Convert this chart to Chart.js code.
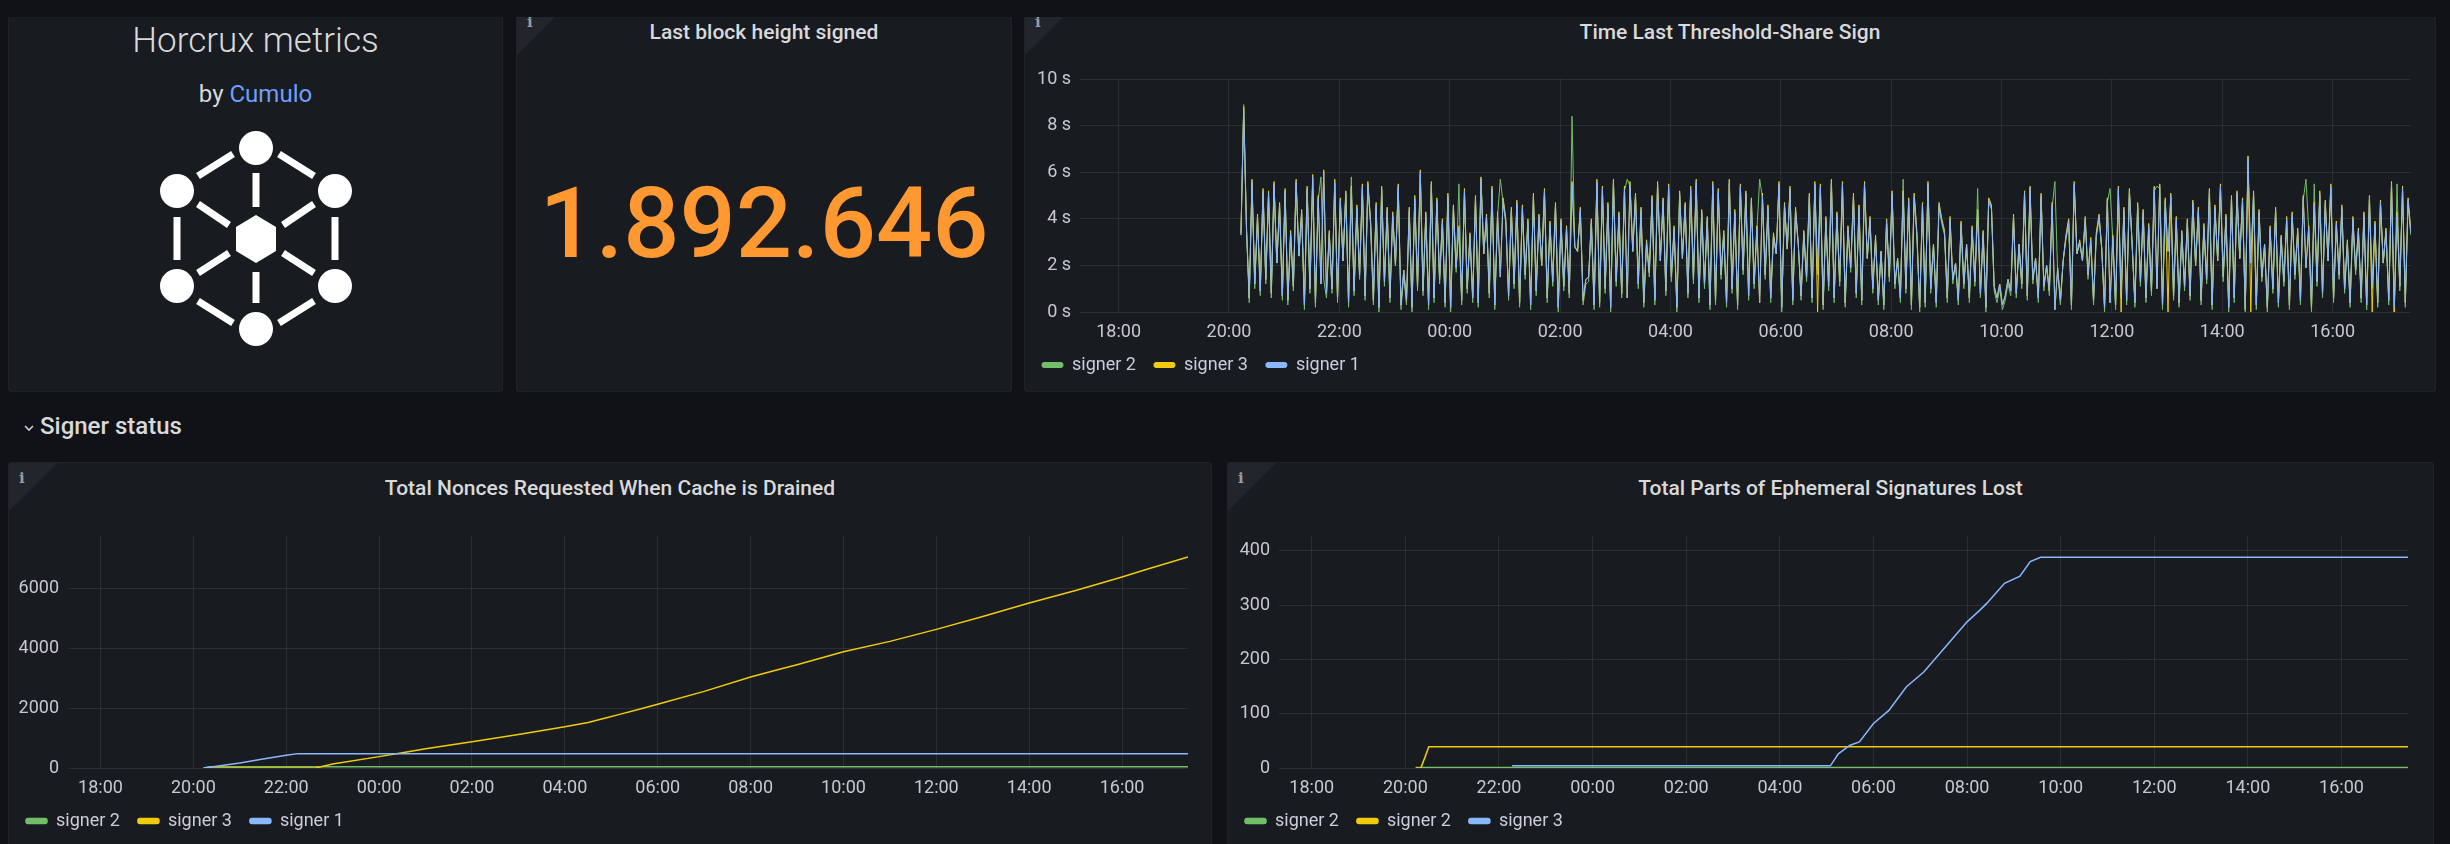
<!DOCTYPE html>
<html>
<head>
<meta charset="utf-8">
<title>Horcrux metrics</title>
<script src="https://cdn.jsdelivr.net/npm/chart.js@4.4.1/dist/chart.umd.min.js"></script>
<style>
  html, body { margin: 0; padding: 0; }
  body {
    width: 2450px; height: 844px; overflow: hidden; position: relative;
    background: #111217; font-family: Roboto, "Noto Sans", sans-serif; color: #ccccdc;
  }
  .panel {
    position: absolute; background: #181b1f; border: 1px solid #202226;
    border-radius: 3px; box-sizing: border-box; overflow: hidden;
  }
  .corner {
    position: absolute; left: 0; top: 0; width: 0; height: 0;
    border-top: 48px solid #22252b; border-right: 48px solid transparent;
  }
  .corner-i {
    position: absolute; left: 10px; top: 6px; font: bold 15px "DejaVu Serif", serif; color: #9a9ca3;
  }
  .title {
    position: absolute; left: 0; right: 0; top: 13px; text-align: center;
    font-size: 21px; font-weight: 500; color: #d8d9da;
  }
  .chartbox { position: absolute; }
  #topclip { position: absolute; left: 0; top: 0; width: 2450px; height: 17px; background: #111217; z-index: 5; }
</style>
</head>
<body>

<!-- top row (panels scrolled slightly under the header) -->
<div class="panel" style="left:8px; top:6px; width:495px; height:386px;">
  <div style="position:absolute; left:0; right:0; top:13px; text-align:center; font-size:35px; font-weight:300; color:#d8d9da;">Horcrux metrics</div>
  <div style="position:absolute; left:0; right:0; top:73px; text-align:center; font-size:24px; color:#d8d9da;">by <span style="color:#6e9fff;">Cumulo</span></div>
</div>
<svg style="position:absolute; left:150px; top:120px;" width="215" height="240" viewBox="150 120 215 240">
  <g fill="#ffffff">
    <circle cx="256" cy="148" r="17"/>
    <circle cx="177" cy="191" r="17"/>
    <circle cx="335" cy="191" r="17"/>
    <circle cx="177" cy="286" r="17"/>
    <circle cx="335" cy="286" r="17"/>
    <circle cx="256" cy="329" r="17"/>
    <polygon points="256,215 276,227 276,251 256,263 236,251 236,227"/>
  </g>
  <g stroke="#ffffff" stroke-width="7" fill="none">
    <line x1="233" y1="154" x2="198" y2="176"/>
    <line x1="279" y1="154" x2="314" y2="176"/>
    <line x1="177" y1="217" x2="177" y2="260"/>
    <line x1="335" y1="217" x2="335" y2="260"/>
    <line x1="198" y1="301" x2="233" y2="323"/>
    <line x1="314" y1="301" x2="279" y2="323"/>
    <line x1="256" y1="173" x2="256" y2="207"/>
    <line x1="256" y1="272" x2="256" y2="303"/>
    <line x1="198" y1="204" x2="229" y2="225"/>
    <line x1="314" y1="204" x2="283" y2="225"/>
    <line x1="198" y1="273" x2="229" y2="253"/>
    <line x1="314" y1="273" x2="283" y2="253"/>
  </g>
</svg>

<div class="panel" style="left:516px; top:6px; width:496px; height:386px;">
  <div class="corner"></div><div class="corner-i">i</div>
  <div class="title">Last block height signed</div>
  <div style="position:absolute; left:0; right:0; top:146px; text-align:center; font-size:99px; font-weight:500; color:#ff9830; line-height:140px;">1.892.646</div>
</div>

<div class="panel" style="left:1024px; top:6px; width:1412px; height:386px;">
  <div class="corner"></div><div class="corner-i">i</div>
  <div class="title">Time Last Threshold-Share Sign</div>
</div>
<div class="chartbox" style="left:1024px; top:50px; width:1412px; height:338px;"><canvas id="signChart"></canvas></div>

<div id="topclip"></div>

<!-- row header -->
<svg style="position:absolute; left:23px; top:423px;" width="12" height="10" viewBox="0 0 12 10">
  <polyline points="2,3 6,7 10,3" fill="none" stroke="#ccccdc" stroke-width="1.6"/>
</svg>
<div style="position:absolute; left:40px; top:412px; font-size:24px; font-weight:500; color:#d8d9da;">Signer status</div>

<!-- bottom row -->
<div class="panel" style="left:8px; top:462px; width:1204px; height:420px;">
  <div class="corner"></div><div class="corner-i">i</div>
  <div class="title">Total Nonces Requested When Cache is Drained</div>
</div>
<div class="chartbox" style="left:8px; top:500px; width:1204px; height:344px;"><canvas id="nonceChart"></canvas></div>

<div class="panel" style="left:1227px; top:462px; width:1207px; height:420px;">
  <div class="corner"></div><div class="corner-i">i</div>
  <div class="title">Total Parts of Ephemeral Signatures Lost</div>
</div>
<div class="chartbox" style="left:1227px; top:500px; width:1207px; height:344px;"><canvas id="lostChart"></canvas></div>

<script>
// time axis: hours since midnight of the first day (24+ = next day)
const axisMinHour = 17.3;
const axisMaxHour = 41.42;

// Time Last Threshold-Share Sign, seconds, one sample every 3 minutes from 20:13
const signStartHour = 20.2167;
const signStepHours = 0.05;
const signer2Sign = [
  3.3, 8.9, 3.5, 0.4, 5.5, 1.0, 4.0, 0.7, 5.1, 1.2, 5.0, 0.6, 5.4, 2.1, 4.5, 0.5, 5.1, 0.3, 3.3, 0.9,
  5.5, 2.4, 4.2, 0.1, 5.2, 0.8, 5.7, 0.2, 4.8, 5.8, 1.4, 0.6, 3.3, 0.8, 5.5, 0.4, 4.7, 2.2, 5.0, 0.2,
  5.8, 0.7, 4.4, 1.4, 5.3, 0.5, 5.4, 3.7, 0.3, 4.5, 0.0, 5.2, 1.1, 4.3, 0.4, 4.1, 2.0, 5.3, 0.1, 1.6,
  0.3, 4.3, 0.0, 4.8, 0.9, 5.9, 0.7, 4.1, 0.1, 5.4, 0.4, 4.7, 1.2, 3.8, 0.2, 4.9, 0.0, 4.4, 1.7, 5.5,
  0.3, 5.1, 0.8, 3.2, 0.4, 4.8, 0.2, 5.6, 2.5, 4.0, 0.6, 5.2, 0.1, 4.1, 5.7, 4.7, 3.8, 0.5, 4.3, 1.0,
  4.6, 0.2, 4.4, 1.4, 3.8, 0.1, 4.9, 0.7, 4.0, 2.0, 5.1, 0.4, 3.7, 1.1, 4.5, 0.0, 3.8, 0.9, 3.5, 0.6,
  8.4, 2.8, 2.6, 4.3, 0.3, 1.2, 1.3, 3.8, 0.1, 5.5, 0.2, 5.2, 0.8, 4.5, 0.0, 5.5, 1.1, 4.1, 0.6, 5.2,
  5.7, 5.4, 2.6, 4.9, 1.0, 4.3, 0.2, 2.9, 1.5, 4.8, 0.3, 5.4, 2.2, 4.7, 0.7, 5.3, 1.3, 3.5, 0.0, 5.0,
  2.3, 4.5, 0.6, 5.2, 1.2, 5.5, 0.4, 4.2, 1.0, 3.9, 0.1, 5.4, 0.3, 5.1, 1.4, 3.3, 0.2, 5.5, 0.8, 4.2,
  0.1, 5.3, 1.6, 5.0, 0.5, 4.7, 1.0, 3.5, 5.7, 4.9, 1.4, 4.4, 0.4, 3.2, 2.5, 5.4, 0.0, 4.5, 2.7, 5.2,
  0.3, 4.3, 2.9, 0.5, 3.3, 1.3, 4.9, 0.4, 5.4, 1.6, 5.3, 0.1, 3.9, 0.9, 5.5, 0.4, 4.1, 1.1, 5.4, 0.2,
  3.5, 1.7, 4.9, 0.6, 4.4, 0.3, 5.4, 2.3, 3.9, 0.8, 3.1, 0.3, 2.6, 0.1, 3.8, 1.3, 5.0, 1.0, 2.3, 0.4,
  5.7, 0.8, 4.7, 0.1, 4.9, 3.2, 0.0, 4.5, 0.2, 5.4, 0.8, 2.9, 0.2, 4.5, 3.8, 3.3, 0.4, 3.9, 1.2, 2.1,
  0.3, 3.7, 1.0, 2.9, 0.4, 3.5, 1.1, 5.3, 0.6, 3.3, 0.0, 4.7, 4.4, 0.9, 0.4, 1.0, 0.1, 0.5, 1.2, 0.7,
  4.0, 0.6, 2.9, 1.0, 5.0, 0.5, 5.2, 1.2, 2.3, 0.4, 4.9, 0.9, 2.0, 0.7, 4.5, 5.6, 1.7, 0.3, 2.2, 3.1,
  3.8, 0.1, 5.4, 2.5, 2.9, 2.2, 3.9, 1.4, 3.0, 0.3, 3.2, 4.0, 2.7, 0.0, 4.7, 5.3, 3.1, 0.1, 5.2, 0.6,
  4.3, 0.3, 5.1, 2.9, 0.2, 4.5, 1.1, 4.2, 0.4, 3.6, 0.7, 5.2, 5.4, 5.3, 0.1, 4.7, 2.6, 4.9, 0.5, 3.9,
  0.2, 3.3, 0.9, 3.8, 0.5, 4.6, 2.0, 4.3, 0.3, 3.6, 1.2, 5.1, 0.1, 4.4, 2.2, 5.3, 1.3, 4.0, 0.0, 4.8,
  0.4, 5.0, 2.3, 4.7, 0.0, 6.3, 2.1, 5.0, 0.1, 4.2, 1.3, 2.9, 0.0, 3.5, 0.8, 4.3, 0.2, 3.1, 1.1, 3.9,
  0.1, 4.1, 1.4, 3.4, 0.3, 4.8, 5.7, 3.5, 0.0, 5.5, 1.1, 5.0, 0.6, 4.6, 2.2, 5.3, 0.4, 3.7, 1.4, 4.4,
  0.8, 2.9, 0.2, 3.9, 1.6, 3.4, 0.4, 4.1, 0.1, 4.8, 1.0, 3.7, 0.2, 4.6, 2.1, 3.4, 0.3, 5.4, 0.0, 5.5,
  0.9, 5.2, 0.2, 4.7, 3.3
];
const signer3Sign = [
  3.4, 8.8, 3.7, 0.6, 5.7, 1.2, 4.2, 0.9, 5.3, 1.4, 5.2, 0.8, 5.6, 2.1, 4.7, 0.7, 5.3, 0.5, 3.5, 1.1,
  5.7, 2.4, 4.4, 0.3, 5.4, 1.0, 5.9, 0.4, 5.0, 1.2, 6.1, 0.8, 3.5, 1.0, 5.7, 0.6, 4.9, 2.2, 5.2, 0.4,
  5.4, 0.9, 4.6, 1.6, 5.5, 0.7, 5.6, 3.9, 0.5, 4.7, 0.2, 5.4, 1.3, 4.5, 0.6, 4.3, 2.0, 5.5, 0.3, 1.8,
  0.5, 4.5, 0.2, 5.0, 1.1, 6.1, 0.9, 4.3, 0.3, 5.6, 0.6, 4.9, 1.4, 4.0, 0.4, 5.1, 0.2, 4.6, 1.9, 3.7,
  0.5, 5.3, 1.0, 3.4, 0.6, 5.0, 0.4, 5.8, 2.5, 4.2, 0.8, 5.4, 0.3, 4.3, 1.5, 4.9, 4.0, 0.7, 4.5, 1.2,
  4.8, 0.4, 4.6, 1.6, 4.0, 0.3, 5.1, 0.9, 4.2, 2.0, 5.3, 0.6, 3.9, 1.3, 4.7, 0.2, 4.0, 1.1, 3.7, 0.8,
  5.6, 2.8, 2.6, 4.5, 0.5, 1.4, 1.5, 4.0, 0.3, 5.7, 0.4, 5.4, 1.0, 4.7, 0.2, 5.7, 1.3, 4.3, 0.8, 5.4,
  0.6, 5.6, 2.6, 5.1, 1.2, 4.5, 0.4, 3.1, 1.7, 5.0, 0.5, 5.6, 2.2, 4.9, 0.9, 5.5, 1.5, 3.7, 0.2, 5.2,
  2.3, 4.7, 0.8, 5.4, 1.4, 5.7, 0.6, 4.4, 1.2, 4.1, 0.3, 5.6, 0.5, 5.3, 1.6, 3.5, 0.4, 5.7, 1.0, 4.4,
  0.3, 5.5, 1.8, 5.2, 0.7, 4.9, 1.2, 3.7, 0.4, 5.1, 1.6, 4.6, 0.6, 3.4, 2.5, 5.6, 0.2, 4.7, 2.7, 5.4,
  0.5, 4.5, 2.9, 0.7, 3.5, 1.5, 5.1, 0.6, 5.6, 0.0, 5.5, 0.3, 4.1, 1.1, 5.7, 0.6, 4.3, 1.3, 5.6, 0.4,
  3.7, 1.9, 5.1, 0.8, 4.6, 0.5, 5.6, 2.3, 4.1, 1.0, 3.3, 0.5, 2.6, 0.3, 4.0, 1.5, 5.2, 1.2, 2.3, 0.6,
  5.2, 1.0, 4.9, 0.3, 5.1, 3.4, 0.2, 4.7, 0.4, 5.6, 1.0, 2.9, 0.4, 4.7, 4.0, 3.5, 0.6, 4.1, 1.4, 2.1,
  0.5, 3.9, 1.2, 2.9, 0.6, 3.7, 1.3, 4.4, 0.8, 3.5, 0.2, 4.9, 4.6, 1.1, 0.6, 1.2, 0.3, 0.7, 1.4, 0.9,
  4.2, 0.8, 2.9, 1.2, 5.2, 0.7, 5.4, 1.4, 2.3, 0.6, 5.1, 1.1, 2.0, 0.9, 4.7, 0.1, 1.9, 0.5, 2.2, 3.3,
  4.0, 0.3, 5.6, 2.5, 3.1, 2.2, 4.1, 1.6, 3.2, 0.5, 3.4, 4.2, 2.7, 0.2, 4.9, 0.4, 3.3, 0.3, 5.4, 0.0,
  4.5, 0.5, 5.3, 2.9, 0.4, 4.7, 1.3, 4.4, 0.6, 3.8, 0.9, 5.4, 1.0, 5.5, 0.3, 4.9, 0.0, 5.1, 0.7, 4.1,
  0.4, 3.5, 1.1, 4.0, 0.7, 4.8, 2.0, 4.5, 0.5, 3.8, 1.4, 5.3, 0.3, 4.6, 2.2, 5.5, 1.5, 4.2, 0.2, 5.0,
  0.6, 5.2, 2.3, 4.9, 0.1, 6.7, 0.0, 5.2, 0.3, 4.4, 1.5, 2.9, 0.2, 3.7, 1.0, 4.5, 0.4, 3.3, 1.3, 4.1,
  0.3, 4.3, 1.6, 3.6, 0.5, 5.0, 1.9, 3.7, 0.2, 4.7, 1.3, 5.2, 0.8, 4.8, 2.2, 5.5, 0.6, 3.9, 1.6, 4.6,
  1.0, 3.1, 0.4, 4.1, 1.8, 3.6, 0.6, 4.3, 0.3, 5.0, 0.0, 3.9, 0.4, 4.8, 2.1, 3.6, 0.5, 5.6, 0.0, 4.3,
  1.1, 5.4, 0.4, 4.9, 3.5
];
const signer1Sign = [
  3.3, 8.7, 3.6, 0.6, 5.6, 1.2, 4.1, 0.9, 5.2, 1.4, 5.1, 0.8, 5.5, 2.1, 4.6, 0.7, 5.2, 0.5, 3.4, 1.1,
  5.6, 2.4, 4.3, 0.3, 5.3, 1.0, 5.8, 0.4, 4.9, 1.2, 6.0, 0.8, 3.4, 1.0, 5.6, 0.6, 4.8, 2.2, 5.1, 0.4,
  5.3, 0.9, 4.5, 1.6, 5.4, 0.7, 5.5, 3.8, 0.5, 4.6, 0.2, 5.3, 1.3, 4.4, 0.6, 4.2, 2.0, 5.4, 0.3, 1.8,
  0.5, 4.4, 0.2, 4.9, 1.1, 6.0, 0.9, 4.2, 0.3, 5.5, 0.6, 4.8, 1.4, 3.9, 0.4, 5.0, 0.2, 4.5, 1.9, 3.6,
  0.5, 5.2, 1.0, 3.3, 0.6, 4.9, 0.4, 5.7, 2.5, 4.1, 0.8, 5.3, 0.3, 4.2, 1.5, 4.8, 3.9, 0.7, 4.4, 1.2,
  4.7, 0.4, 4.5, 1.6, 3.9, 0.3, 5.0, 0.9, 4.1, 2.0, 5.2, 0.6, 3.8, 1.3, 4.6, 0.2, 3.9, 1.1, 3.6, 0.8,
  5.5, 2.8, 2.6, 4.4, 0.5, 1.4, 1.5, 3.9, 0.3, 5.6, 0.4, 5.3, 1.0, 4.6, 0.2, 5.6, 1.3, 4.2, 0.8, 5.3,
  0.6, 5.5, 2.6, 5.0, 1.2, 4.4, 0.4, 3.0, 1.7, 4.9, 0.5, 5.5, 2.2, 4.8, 0.9, 5.4, 1.5, 3.6, 0.2, 5.1,
  2.3, 4.6, 0.8, 5.3, 1.4, 5.6, 0.6, 4.3, 1.2, 4.0, 0.3, 5.5, 0.5, 5.2, 1.6, 3.4, 0.4, 5.6, 1.0, 4.3,
  0.3, 5.4, 1.8, 5.1, 0.7, 4.8, 1.2, 3.6, 0.4, 5.0, 1.6, 4.5, 0.6, 3.3, 2.5, 5.5, 0.2, 4.6, 2.7, 5.3,
  0.5, 4.4, 2.9, 0.7, 3.4, 1.5, 5.0, 0.6, 5.5, 1.8, 5.4, 0.3, 4.0, 1.1, 5.6, 0.6, 4.2, 1.3, 5.5, 0.4,
  3.6, 1.9, 5.0, 0.8, 4.5, 0.5, 5.5, 2.3, 4.0, 1.0, 3.2, 0.5, 2.6, 0.3, 3.9, 1.5, 5.1, 1.2, 2.3, 0.6,
  5.1, 1.0, 4.8, 0.3, 5.0, 3.3, 0.2, 4.6, 0.4, 5.5, 1.0, 2.9, 0.4, 4.6, 3.9, 3.4, 0.6, 4.0, 1.4, 2.1,
  0.5, 3.8, 1.2, 2.9, 0.6, 3.6, 1.3, 4.3, 0.8, 3.4, 0.2, 4.8, 4.5, 1.1, 0.6, 1.2, 0.3, 0.7, 1.4, 0.9,
  4.1, 0.8, 2.9, 1.2, 5.1, 0.7, 5.3, 1.4, 2.3, 0.6, 5.0, 1.1, 2.0, 0.9, 4.6, 0.1, 1.9, 0.5, 2.2, 3.2,
  3.9, 0.3, 5.5, 2.5, 3.0, 2.2, 4.0, 1.6, 3.1, 0.5, 3.3, 4.1, 2.7, 0.2, 4.8, 0.4, 3.2, 0.3, 5.3, 0.8,
  4.4, 0.5, 5.2, 2.9, 0.4, 4.6, 1.3, 4.3, 0.6, 3.7, 0.9, 5.3, 1.0, 5.4, 0.3, 4.8, 2.6, 5.0, 0.7, 4.0,
  0.4, 3.4, 1.1, 3.9, 0.7, 4.7, 2.0, 4.4, 0.5, 3.7, 1.4, 5.2, 0.3, 4.5, 2.2, 5.4, 1.5, 4.1, 0.2, 4.9,
  0.6, 5.1, 2.3, 4.8, 0.1, 6.6, 2.1, 5.1, 0.3, 4.3, 1.5, 2.9, 0.2, 3.6, 1.0, 4.4, 0.4, 3.2, 1.3, 4.0,
  0.3, 4.2, 1.6, 3.5, 0.5, 4.9, 1.9, 3.6, 0.2, 4.6, 1.3, 5.1, 0.8, 4.7, 2.2, 5.4, 0.6, 3.8, 1.6, 4.5,
  1.0, 3.0, 0.4, 4.0, 1.8, 3.5, 0.6, 4.2, 0.3, 4.9, 1.2, 3.8, 0.4, 4.7, 2.1, 3.5, 0.5, 5.5, 0.2, 4.2,
  1.1, 5.3, 0.4, 4.8, 3.4
];
const signTicks = [0, 2, 4, 6, 8, 10];

// Total Nonces Requested When Cache is Drained
const nonceTicks = [0, 2000, 4000, 6000];
const nonceHours2 = [20.22, 20.35, 41.42];
const nonceValues2 = [0, 40, 40];
const nonceHours3 = [20.22, 22.63, 23.0, 24.0, 24.5, 25.0, 26.0, 27.0, 28.0, 28.5, 28.92, 29.2, 29.5, 30.0,
  31.0, 32.0, 32.5, 33.0, 34.0, 35.0, 36.0, 37.0, 38.0, 39.0, 40.0, 40.5, 41.42];
const nonceValues3 = [0, 0, 130, 380, 510, 640, 880, 1120, 1380, 1520, 1690, 1800, 1920, 2130,
  2560, 3040, 3250, 3450, 3880, 4230, 4630, 5060, 5510, 5930, 6380, 6620, 7050];
const nonceHours1 = [20.22, 20.5, 21.0, 21.5, 22.0, 22.25, 41.42];
const nonceValues1 = [0, 60, 165, 300, 425, 480, 480];

// Total Parts of Ephemeral Signatures Lost
const lostTicks = [0, 100, 200, 300, 400];
const lostHoursGreen = [20.22, 41.42];
const lostValuesGreen = [1, 1];
const lostHoursYellow = [20.22, 20.33, 20.42, 20.5, 41.42];
const lostValuesYellow = [0, 0, 20, 39, 39];
const lostHoursBlue = [22.28, 29.08, 29.25, 29.5, 29.7, 30.0, 30.33, 30.7, 31.08, 31.6, 32.0, 32.28,
  32.42, 32.8, 33.13, 33.35, 33.57, 41.42];
const lostValuesBlue = [4, 4, 26, 42, 48, 82, 106, 149, 177, 229, 269, 291, 303, 340, 353, 380, 388, 388];

const GREEN = '#73bf69';
const YELLOW = '#f2cc0c';
const BLUE = '#8ab8ff';
const GRID = 'rgba(204, 204, 220, 0.1)';
const TICK = '#c7c8d0';

Chart.defaults.font.family = 'Roboto';
Chart.defaults.font.size = 18;
Chart.defaults.color = TICK;

function pairs(hours, values) {
  return hours.map((h, i) => ({ x: h, y: values[i] }));
}

function sampled(values) {
  return values.map((v, i) => ({ x: signStartHour + i * signStepHours, y: v }));
}

function hourLabel(v) {
  const h = ((v % 24) + 24) % 24;
  return String(h).padStart(2, '0') + ':00';
}

function series(label, color, data, order, width) {
  return {
    label: label,
    data: data,
    borderColor: color,
    backgroundColor: color,
    borderWidth: width,
    pointRadius: 0,
    tension: 0,
    fill: false,
    order: order
  };
}

function makeChart(id, datasets, yMax, yTicks, yFormat, axisWidth, padding) {
  const ctx = document.getElementById(id).getContext('2d');
  return new Chart(ctx, {
    type: 'line',
    data: { datasets: datasets },
    options: {
      responsive: true,
      maintainAspectRatio: false,
      animation: false,
      layout: { padding: padding },
      scales: {
        x: {
          type: 'linear',
          min: axisMinHour,
          max: axisMaxHour,
          grid: { color: GRID, drawTicks: false },
          border: { display: false },
          ticks: {
            stepSize: 2,
            includeBounds: false,
            padding: 10,
            maxRotation: 0,
            autoSkip: false,
            callback: hourLabel
          },
          afterFit: (scale) => { scale.height = 26; }
        },
        y: {
          min: 0,
          max: yMax,
          grid: { color: GRID, drawTicks: false },
          border: { display: false },
          ticks: { padding: 9, callback: yFormat },
          afterBuildTicks: (scale) => { scale.ticks = yTicks.map(v => ({ value: v })); },
          afterFit: (scale) => { scale.width = axisWidth; }
        }
      },
      plugins: {
        legend: {
          position: 'bottom',
          align: 'start',
          labels: {
            boxWidth: 21,
            boxHeight: 5,
            padding: 18,
            useBorderRadius: true,
            borderRadius: 2,
            color: '#ccccdc',
            font: { size: 18 },
            sort: (a, b) => a.datasetIndex - b.datasetIndex
          }
        },
        tooltip: { enabled: false }
      }
    }
  });
}

// Time Last Threshold-Share Sign
makeChart('signChart', [
  series('signer 2', GREEN, sampled(signer2Sign), 2, 1),
  series('signer 3', YELLOW, sampled(signer3Sign), 1, 1),
  series('signer 1', BLUE, sampled(signer1Sign), 0, 1)
], 10, signTicks, (v) => v + ' s', 56, { top: 29, right: 25, bottom: 4, left: 0 });

// Total Nonces Requested When Cache is Drained
makeChart('nonceChart', [
  series('signer 2', GREEN, pairs(nonceHours2, nonceValues2), 2, 1.5),
  series('signer 3', YELLOW, pairs(nonceHours3, nonceValues3), 1, 1.5),
  series('signer 1', BLUE, pairs(nonceHours1, nonceValues1), 0, 1.5)
], 7750, nonceTicks, (v) => String(v), 60, { top: 36, right: 24, bottom: 4, left: 0 });

// Total Parts of Ephemeral Signatures Lost
makeChart('lostChart', [
  series('signer 2', GREEN, pairs(lostHoursGreen, lostValuesGreen), 2, 1.5),
  series('signer 2', YELLOW, pairs(lostHoursYellow, lostValuesYellow), 1, 1.5),
  series('signer 3', BLUE, pairs(lostHoursBlue, lostValuesBlue), 0, 1.5)
], 427, lostTicks, (v) => String(v), 52, { top: 36, right: 26, bottom: 4, left: 0 });
</script>
</body>
</html>
